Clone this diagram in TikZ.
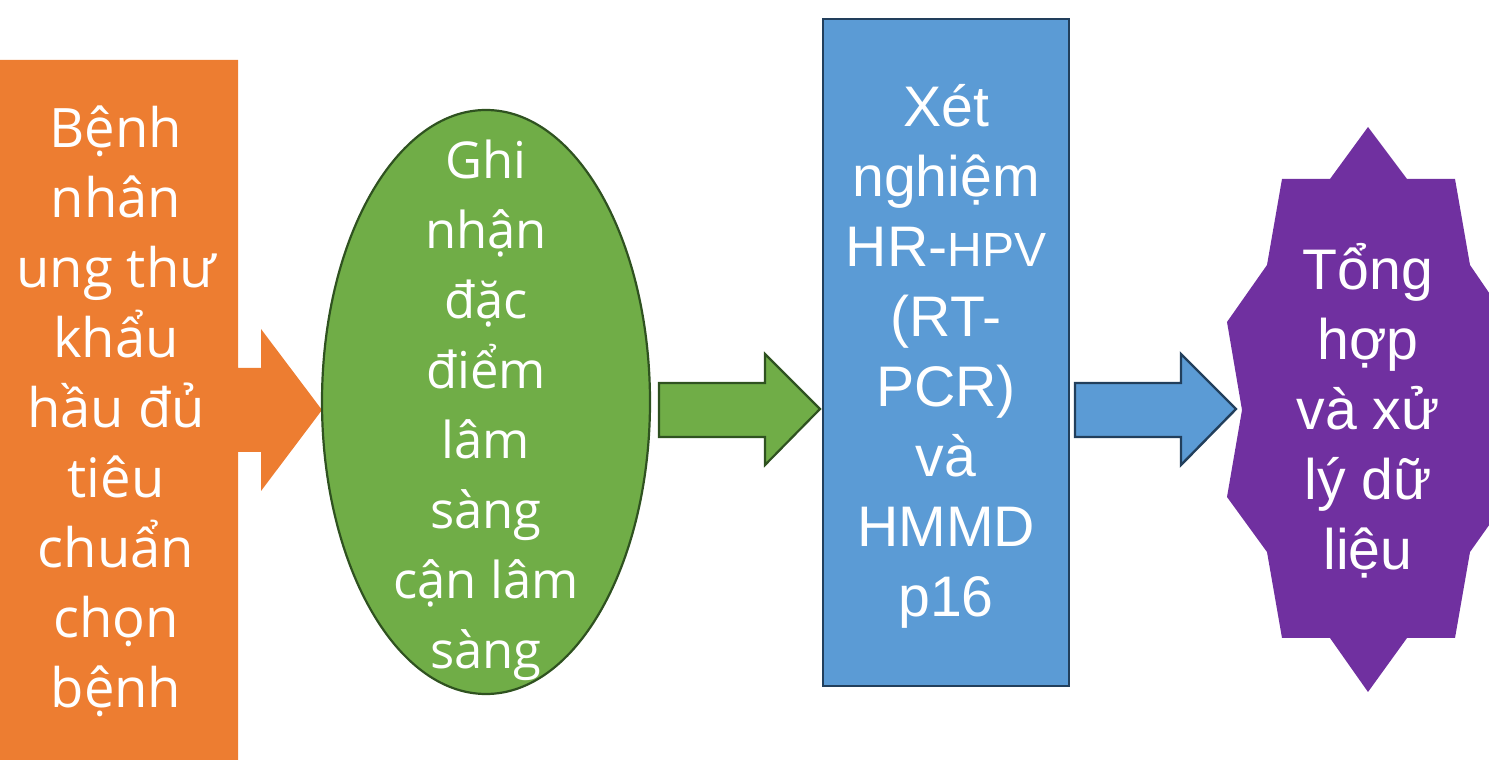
\documentclass[tikz,border=0pt]{standalone}
\usepackage{fontspec}
\setmainfont{Liberation Sans}
\newfontfamily\osans{Open Sans}
\usetikzlibrary{shapes.geometric}
\definecolor{orangeA}{HTML}{ED7D31}
\definecolor{greenA}{HTML}{70AD47}
\definecolor{greenB}{HTML}{2F5220}
\definecolor{blueA}{HTML}{5B9BD5}
\definecolor{blueB}{HTML}{223F5C}
\definecolor{purpleA}{HTML}{7030A0}
\begin{document}
\begin{tikzpicture}[x=0.5pt,y=-0.5pt,
  lbl/.style={text=white, align=center, inner sep=0pt},
  ostext/.style={lbl, font=\osans\fontsize{27.2}{35}\selectfont},
  ostextg/.style={lbl, font=\osans\fontsize{25.4}{35}\selectfont},
  artext/.style={lbl, font=\fontsize{28.6}{35}\selectfont},
  greenline/.style={draw=greenB, line width=1.1pt, line join=miter},
  blueline/.style={draw=blueB, line width=1.2pt, line join=miter}]
\useasboundingbox (0,0) rectangle (1489,763);
\begin{scope}
\clip (0,0) rectangle (1489,763);
% orange box with arrow
\fill[orangeA] (0,60) -- (238,60) -- (238,368) -- (261,368) -- (261,329) -- (322,410)
  -- (261,491) -- (261,452) -- (238,452) -- (238,760) -- (0,760) -- cycle;
\node[ostext] (t1) at (116,411) {Bệnh\\nhân\\ung thư\\khẩu\\hầu đủ\\tiêu\\chuẩn\\chọn\\bệnh};
% green ellipse
\node[ellipse, fill=greenA, greenline, inner sep=0pt, minimum width=164pt, minimum height=292pt] (ell) at (486,402) {};
\node[ostextg] (t2) at (486,410) {Ghi\\nhận\\đặc\\điểm\\lâm\\sàng\\cận lâm\\sàng};
% green block arrow
\filldraw[fill=greenA, greenline] (659,383) -- (765,383) -- (765,354) -- (820,409)
  -- (765,465) -- (765,437) -- (659,437) -- cycle;
% blue rectangle
\node[rectangle, fill=blueA, blueline, inner sep=0pt, minimum width=123pt, minimum height=333.5pt] (blue) at (946,352.5) {};
\node[artext] (t3) at (946,356) {Xét\\nghiệm\\HR-{\fontsize{24}{35}\selectfont HPV}\\(RT-\\PCR)\\và\\HMMD\\p16};
% blue block arrow
\filldraw[fill=blueA, blueline] (1075,383) -- (1181,383) -- (1181,354) -- (1236,409)
  -- (1181,465) -- (1181,437) -- (1075,437) -- cycle;
% purple star
\fill[purpleA] (1368,127) -- (1407,179) -- (1455,179) -- (1470,265) -- (1509,322) -- (1494,410)
  -- (1509,497) -- (1470,552) -- (1455,638) -- (1407,638) -- (1368,692) -- (1330,638)
  -- (1282,638) -- (1267,552) -- (1227,497) -- (1242,410) -- (1227,322) -- (1267,265)
  -- (1282,179) -- (1330,179) -- cycle;
\node[artext] (t4) at (1368,411) {Tổng\\hợp\\và xử\\lý dữ\\liệu};
\end{scope}
\end{tikzpicture}
\end{document}
